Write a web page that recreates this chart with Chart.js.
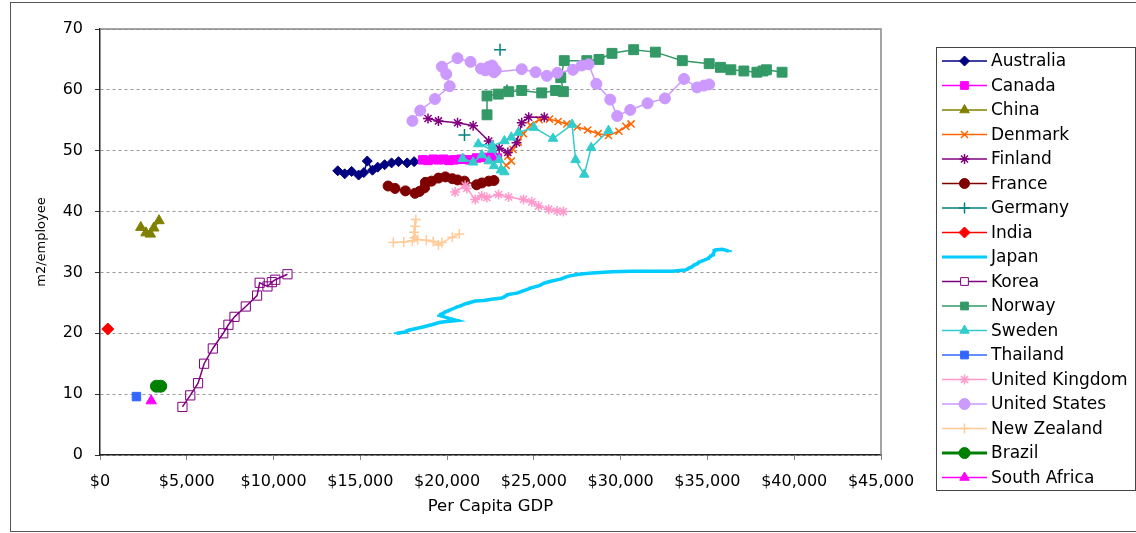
<!DOCTYPE html>
<html>
<head>
<meta charset="utf-8">
<script src="https://cdn.jsdelivr.net/npm/chart.js"></script>
<style>
  html, body { margin: 0; padding: 0; background: #fff; }
  #wrap { width: 1136px; height: 533px; }
</style>
</head>
<body>
<div id="wrap"><canvas id="myChart"></canvas></div>
<script>
// axis ticks
const gdpTicks = [0, 5000, 10000, 15000, 20000, 25000, 30000, 35000, 40000, 45000];
const areaTicks = [0, 10, 20, 30, 40, 50, 60, 70];

// [per capita GDP, m2 per employee]
const australia = [[13700,46.7],[14100,46.2],[14500,46.6],[14900,46.0],[15200,46.4],[15400,48.3],[15700,46.8],[16000,47.3],[16400,47.7],[16800,48.0],[17200,48.2],[17700,48.0],[18100,48.2]];
const canada = [[18600,48.5],[18900,48.4],[19200,48.6],[19500,48.5],[19800,48.6],[20100,48.4],[20400,48.5],[20800,48.6],[21300,48.5],[21700,48.8],[22200,48.9],[22600,49.1],[22900,48.8]];
const china = [[2350,37.4],[2650,36.5],[2900,36.3],[3100,37.3],[3400,38.5]];
const denmark = [[23400,47.6],[23700,48.3],[23500,49.1],[23800,50.2],[24100,51.4],[24400,52.8],[24800,54.2],[25300,55.1],[25900,55.2],[26400,54.8],[26900,54.4],[27500,53.9],[28100,53.4],[28700,52.8],[29300,52.5],[29900,53.2],[30300,54.0],[30600,54.4]];
const finland = [[18900,55.3],[19500,54.9],[20600,54.6],[21500,54.1],[22400,51.6],[23000,50.4],[23500,49.7],[24000,51.3],[24300,54.6],[24700,55.5],[25600,55.5]];
const france = [[16600,44.2],[17000,43.8],[17600,43.4],[18150,43.0],[18400,43.3],[18700,43.9],[18750,44.8],[19100,45.0],[19500,45.5],[19900,45.7],[20300,45.4],[20600,45.2],[21000,45.0],[21700,44.4],[22000,44.7],[22400,45.0],[22700,45.1]];
const germany = [[21000,52.6],[23050,66.6],[23450,59.9]];
const india = [[450,20.7]];
const japan = [[17100,20.0],[17580,20.2],[17770,20.5],[18540,21.0],[19110,21.4],[19600,21.8],[20560,22.1],[20170,22.4],[19600,22.9],[19690,23.2],[19980,23.6],[20650,24.4],[21130,24.9],[21620,25.3],[22100,25.4],[22570,25.6],[23150,25.8],[23540,26.4],[24020,26.6],[24500,27.1],[24880,27.5],[25270,27.8],[25660,28.3],[26040,28.6],[26520,28.9],[27000,29.4],[27580,29.7],[28340,29.9],[29500,30.1],[30650,30.2],[31800,30.2],[32960,30.2],[33730,30.4],[34020,30.8],[34310,31.3],[34600,31.8],[34980,32.2],[35270,32.8],[35460,33.7],[35850,33.8],[36230,33.5]];
const korea = [[4750,7.9],[5200,9.8],[5650,11.8],[6000,15.0],[6500,17.5],[7100,20.0],[7400,21.4],[7750,22.7],[8400,24.4],[9050,26.2],[9200,28.3],[9650,27.7],[9900,28.4],[10100,28.8],[10800,29.7]];
const norway = [[22300,55.9],[22300,59.0],[22950,59.3],[23550,59.7],[24300,59.9],[25450,59.5],[26250,59.9],[26700,59.7],[26550,62.0],[26750,64.8],[28050,64.8],[28750,65.0],[29500,66.0],[30750,66.6],[32000,66.2],[33550,64.8],[35100,64.3],[35750,63.7],[36350,63.3],[37100,63.1],[37850,62.9],[38200,63.1],[38400,63.3],[39300,62.9]];
const sweden = [[20900,48.7],[21500,48.1],[22000,49.3],[22400,48.3],[22700,47.5],[23100,46.8],[23300,46.5],[23000,48.5],[22600,50.2],[21800,51.1],[22600,50.8],[23300,51.6],[23700,52.2],[24100,53.0],[25000,53.8],[26100,52.0],[27200,54.3],[27400,48.5],[27900,46.1],[28300,50.5],[29300,53.3]];
const thailand = [[2100,9.6]];
const unitedKingdom = [[20460,43.2],[21040,44.3],[21130,43.8],[21620,42.0],[22000,42.6],[22290,42.3],[22960,42.8],[23540,42.4],[24400,42.0],[24880,41.6],[25270,40.9],[25850,40.4],[26330,40.1],[26700,40.0]];
const unitedStates = [[18000,54.9],[18450,56.6],[19300,58.5],[20150,60.6],[19950,62.6],[19700,63.8],[20600,65.2],[21350,64.6],[21950,63.5],[22200,63.2],[22400,63.8],[22600,64.0],[22800,63.2],[22700,62.9],[24300,63.4],[25100,62.9],[25750,62.3],[26350,62.8],[27250,63.3],[27750,64.0],[28150,64.2],[28600,61.0],[29400,58.4],[29800,55.7],[30550,56.7],[31550,57.8],[32550,58.6],[33650,61.8],[34400,60.4],[34800,60.7],[35100,60.9]];
const newZealand = [[16900,34.9],[17500,35.0],[18000,35.2],[18100,35.7],[18200,38.7],[18150,37.6],[18100,36.6],[18300,35.4],[18800,35.3],[19200,35.1],[19500,34.5],[19700,34.9],[20300,35.8],[20700,36.3]];
const brazil = [[3250,11.3],[3500,11.3]];
const southAfrica = [[2950,8.9]];

const countries = ['Australia','Canada','China','Denmark','Finland','France','Germany','India','Japan','Korea','Norway','Sweden','Thailand','United Kingdom','United States','New Zealand','Brazil','South Africa'];
const seriesData = [australia, canada, china, denmark, finland, france, germany, india, japan, korea, norway, sweden, thailand, unitedKingdom, unitedStates, newZealand, brazil, southAfrica];

// look of each series: colour, marker, marker radius, line width
const looks = {
  'Australia':      { color: '#000080', marker: 'rectRot',  r: 5,   line: 1.5 },
  'Canada':         { color: '#FF00FF', marker: 'rect',     r: 6,   line: 1.5 },
  'China':          { color: '#808000', marker: 'triangle', r: 6,   line: 1.5 },
  'Denmark':        { color: '#FF6600', marker: 'crossRot', r: 5,   line: 1.5, bw: 1.5 },
  'Finland':        { color: '#800080', marker: 'star',     r: 5,   line: 1.5, bw: 1.5 },
  'France':         { color: '#800000', marker: 'circle',   r: 5,   line: 1.5 },
  'Germany':        { color: '#008080', marker: 'cross',    r: 6,   line: 1.5, bw: 1.5, noLine: true },
  'India':          { color: '#FF0000', marker: 'rectRot',  r: 6,   line: 1.5 },
  'Japan':          { color: '#00CCFF', marker: 'line',     r: 3,   line: 3.5, bw: 2 },
  'Korea':          { color: '#800080', marker: 'rect',     r: 6.5, line: 1.5, open: true },
  'Norway':         { color: '#339966', marker: 'rect',     r: 7,   line: 1.5 },
  'Sweden':         { color: '#33CCCC', marker: 'triangle', r: 5.5, line: 1.5 },
  'Thailand':       { color: '#3366FF', marker: 'rect',     r: 6,   line: 1.5 },
  'United Kingdom': { color: '#FF99CC', marker: 'star',     r: 5,   line: 1.5, bw: 1.5 },
  'United States':  { color: '#CC99FF', marker: 'circle',   r: 5.5, line: 1.5 },
  'New Zealand':    { color: '#FFCC99', marker: 'cross',    r: 5,   line: 1.5, bw: 1.5 },
  'Brazil':         { color: '#008000', marker: 'circle',   r: 6,   line: 3 },
  'South Africa':   { color: '#FF00FF', marker: 'triangle', r: 6,   line: 1.5 }
};

const FONT = "'DejaVu Sans', sans-serif";

const datasets = countries.map((name, i) => {
  const lk = looks[name];
  return {
    label: name,
    data: seriesData[i].map(p => ({ x: p[0], y: p[1] })),
    showLine: !lk.noLine,
    borderColor: lk.color,
    borderWidth: lk.line,
    backgroundColor: lk.color,
    pointStyle: lk.marker,
    pointRadius: lk.r,
    pointBackgroundColor: lk.open ? 'rgba(0,0,0,0)' : lk.color,
    pointBorderColor: lk.color,
    pointBorderWidth: lk.bw || 1,
    order: countries.length - i
  };
});

// white background, outer frame, plot area top/right edges
const frame = {
  id: 'frame',
  beforeDraw(chart) {
    const ctx = chart.ctx;
    ctx.save();
    ctx.fillStyle = '#fff';
    ctx.fillRect(0, 0, chart.width, chart.height);
    ctx.strokeStyle = '#555';
    ctx.lineWidth = 1;
    ctx.strokeRect(10.5, 2.5, chart.width, chart.height - 4);
    ctx.restore();
  },
  beforeDatasetsDraw(chart) {
    const { ctx, chartArea: a } = chart;
    ctx.save();
    ctx.strokeStyle = '#888';
    ctx.lineWidth = 1.5;
    ctx.beginPath();
    ctx.moveTo(a.left, a.top);
    ctx.lineTo(a.right, a.top);
    ctx.lineTo(a.right, a.bottom);
    ctx.stroke();
    ctx.restore();
  }
};

// boxed legend with line + marker samples
const legendBox = {
  id: 'legendBox',
  afterDraw(chart) {
    const ctx = chart.ctx;
    const drawPoint = Chart.helpers.drawPoint;
    ctx.save();
    ctx.strokeStyle = '#444';
    ctx.lineWidth = 1;
    ctx.strokeRect(936.5, 47.5, 199, 443);
    ctx.font = '17px ' + FONT;
    ctx.textBaseline = 'middle';
    chart.data.datasets.forEach((ds, i) => {
      const y = 61 + i * 24.5;
      ctx.strokeStyle = ds.borderColor;
      ctx.lineWidth = Math.min(ds.borderWidth, 3);
      ctx.beginPath();
      ctx.moveTo(942, y);
      ctx.lineTo(987, y);
      ctx.stroke();
      ctx.fillStyle = ds.pointBackgroundColor === 'rgba(0,0,0,0)' ? '#fff' : ds.pointBackgroundColor;
      ctx.strokeStyle = ds.pointBorderColor;
      ctx.lineWidth = ds.pointBorderWidth;
      drawPoint(ctx, { pointStyle: ds.pointStyle, radius: Math.min(ds.pointRadius, 5.5), borderWidth: ds.pointBorderWidth, rotation: 0 }, 964.5, y);
      ctx.fillStyle = '#000';
      ctx.fillText(ds.label, 991, y + 1);
    });
    ctx.restore();
  }
};

const fmtMoney = v => '$' + String(v).replace(/\B(?=(\d{3})+(?!\d))/g, ',');

new Chart(document.getElementById('myChart'), {
  type: 'scatter',
  data: { datasets },
  options: {
    responsive: true,
    maintainAspectRatio: false,
    animation: false,
    layout: { padding: { left: 30, right: 255, top: 29, bottom: 16 } },
    plugins: { legend: { display: false }, tooltip: { enabled: false } },
    scales: {
      x: {
        type: 'linear',
        min: 0,
        max: 45000,
        afterBuildTicks: s => { s.ticks = gdpTicks.map(v => ({ value: v })); },
        afterFit: s => { s.height = 62; },
        grid: { drawOnChartArea: false, tickLength: 5, color: '#888', lineWidth: 1 },
        border: { color: '#222', width: 1.5 },
        ticks: { padding: 12, color: '#000', autoSkip: false, maxRotation: 0, font: { family: FONT, size: 16 }, callback: v => fmtMoney(v) },
        title: { display: true, text: 'Per Capita GDP', color: '#000', font: { family: FONT, size: 16.5 }, padding: { top: 9, bottom: 0 } }
      },
      y: {
        min: 0,
        max: 70,
        afterBuildTicks: s => { s.ticks = areaTicks.map(v => ({ value: v })); },
        afterFit: s => { s.width = 70; },
        grid: { color: '#999', lineWidth: 1, tickLength: 5, tickColor: '#333' },
        border: { color: '#222', width: 1.5, dash: [3, 3] },
        ticks: { padding: 12, color: '#000', font: { family: FONT, size: 16 } },
        title: { display: true, text: 'm2/employee', color: '#000', font: { family: FONT, size: 13 }, padding: { top: 4, bottom: 0 } }
      }
    }
  },
  plugins: [frame, legendBox]
});
</script>
</body>
</html>
